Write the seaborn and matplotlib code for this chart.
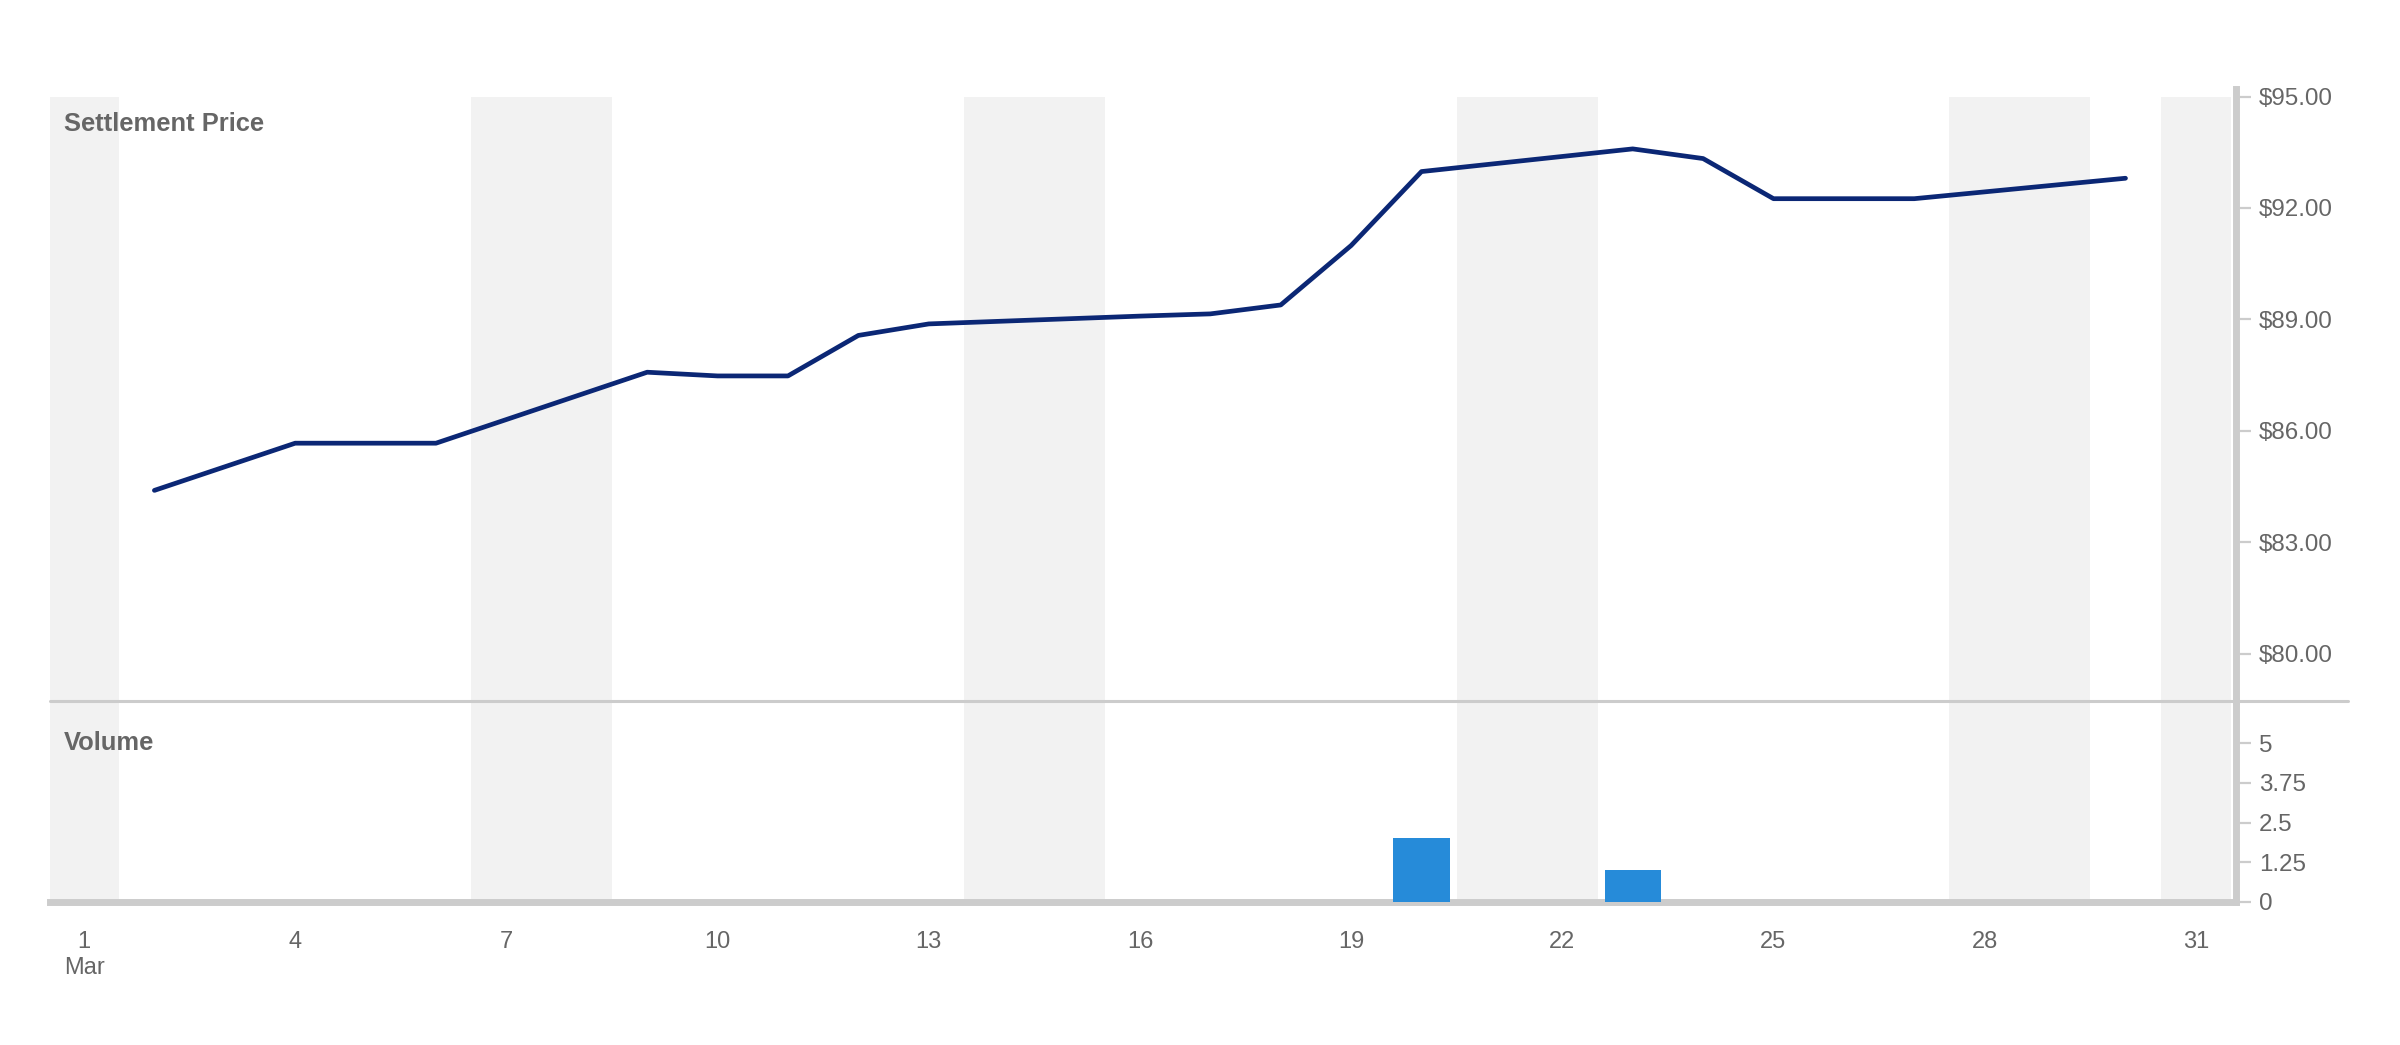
import matplotlib
matplotlib.use("Agg")
import matplotlib.pyplot as plt
import seaborn as sns
import pandas as pd
from matplotlib.lines import Line2D

# ---- data ----
price_days = [2, 4, 6, 9, 10, 11, 12, 13, 16, 17, 18, 19, 20, 23, 24, 25, 26, 27, 30]
price_vals = [84.40, 85.67, 85.67, 87.58, 87.48, 87.48, 88.57, 88.88, 89.09, 89.15,
              89.39, 90.99, 92.98, 93.59, 93.33, 92.25, 92.25, 92.25, 92.80]
volume_vals = [0, 0, 0, 0, 0, 0, 0, 0, 0, 0, 0, 0, 2, 1, 0, 0, 0, 0, 0]
shaded_days = [1, 7, 8, 14, 15, 21, 22, 28, 29, 31]
x_ticks = [1, 4, 7, 10, 13, 16, 19, 22, 25, 28, 31]
x_tick_labels = ["1\nMar", "4", "7", "10", "13", "16", "19", "22", "25", "28", "31"]
price_ticks = [80, 83, 86, 89, 92, 95]
price_tick_labels = ["$80.00", "$83.00", "$86.00", "$89.00", "$92.00", "$95.00"]
vol_ticks = [0, 1.25, 2.5, 3.75, 5]
vol_tick_labels = ["0", "1.25", "2.5", "3.75", "5"]

df_price = pd.DataFrame({"day": price_days, "price": price_vals})
df_vol = pd.DataFrame({"day": price_days, "volume": volume_vals})

sns.set_theme(style="white")
plt.rcParams["font.family"] = ["Liberation Sans", "DejaVu Sans"]

W, H, DPI = 2400, 1045, 200
fig = plt.figure(figsize=(W / DPI, H / DPI), dpi=DPI)

def fx(px):
    return px / W

def fy(py):
    return 1 - py / H

left, right = 50, 2236
top_p, sep, bot_v = 96.5, 700.7, 901.7
ax_p = fig.add_axes([fx(left), fy(sep), fx(right - left), fy(top_p) - fy(sep)])
ax_v = fig.add_axes([fx(left), fy(bot_v), fx(right - left), fy(sep) - fy(bot_v)], sharex=ax_p)

LINE = "#0b2775"
BAR = "#268bd9"
GRID = "#cccccc"
TXT = "#666666"
BAND = "#f2f2f2"

for ax in (ax_p, ax_v):
    for d in shaded_days:
        ax.axvspan(d - 0.5, d + 0.5, color=BAND, lw=0, zorder=0)

sns.lineplot(data=df_price, x="day", y="price", ax=ax_p, color=LINE, linewidth=1.7, zorder=3)
sns.barplot(data=df_vol, x="day", y="volume", ax=ax_v, native_scale=True, color=BAR,
            width=0.8, linewidth=0, saturation=1, zorder=3)

ax_p.set_xlim(0.517, 31.57)
ax_p.set_ylim(78.74, 95.0)
ax_v.set_ylim(0, 6.345)

for ax in (ax_p, ax_v):
    ax.set_xlabel("")
    ax.set_ylabel("")
    ax.yaxis.tick_right()
    for s in ("top", "left"):
        ax.spines[s].set_visible(False)
    ax.spines["right"].set_color(GRID)
    ax.spines["right"].set_linewidth(2.5)
    ax.tick_params(axis="y", which="both", right=True, left=False, length=5.4, width=0.8,
                   color=GRID, labelcolor=TXT, labelsize=8.7, pad=2.8)
    ax.set_facecolor("none")

ax_p.spines["right"].set_bounds(78.74, 95.2)
ax_p.spines["bottom"].set_visible(False)
ax_p.tick_params(axis="x", bottom=False, labelbottom=False)
ax_v.spines["bottom"].set_color(GRID)
ax_v.spines["bottom"].set_linewidth(2.5)

ax_p.set_yticks(price_ticks)
ax_p.set_yticklabels(price_tick_labels)
ax_v.set_yticks(vol_ticks)
ax_v.set_yticklabels(vol_tick_labels)

ax_v.set_xticks(x_ticks)
ax_v.set_xticklabels(x_tick_labels, linespacing=1.25)
ax_v.tick_params(axis="x", bottom=False, labelsize=8.5, labelcolor=TXT, pad=4.6)

# separator line extending beyond the axis
fig.add_artist(Line2D([fx(left), fx(2348)], [fy(sep), fy(sep)], color=GRID, lw=1.1,
                      transform=fig.transFigure, zorder=5))

fig.text(fx(64), fy(124), "Settlement Price", fontsize=9.2, fontweight="bold", color=TXT,
         ha="left", va="center")
fig.text(fx(64), fy(743), "Volume", fontsize=9.2, fontweight="bold", color=TXT,
         ha="left", va="center")

fig.savefig("out.png", dpi=DPI, facecolor="white")
